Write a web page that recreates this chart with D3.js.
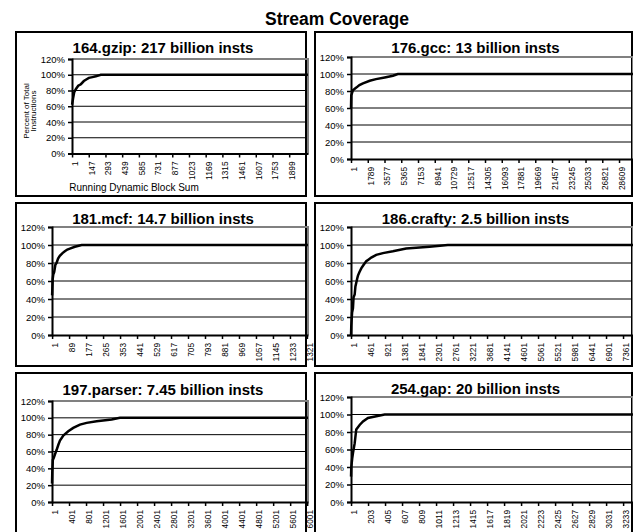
<!DOCTYPE html>
<html>
<head>
<meta charset="utf-8">
<script src="https://cdn.jsdelivr.net/npm/d3@7"></script>
<style>
  body { margin: 0; background: #fff; }
  svg { display: block; }
  text { font-family: Arial, "Liberation Sans", sans-serif; fill: #000; }
</style>
</head>
<body>
<svg id="chart" width="633" height="532"></svg>
<script>
// ---- data ----
const chartTitle = "Stream Coverage";
const panelTitles = [
    "164.gzip: 217 billion insts",
    "176.gcc: 13 billion insts",
    "181.mcf: 14.7 billion insts",
    "186.crafty: 2.5 billion insts",
    "197.parser: 7.45 billion insts",
    "254.gap: 20 billion insts"
];
// number of categories (running dynamic block sum) on each x axis
const categoryCounts = [2063, 30100, 1326, 7630, 6020, 3350];

const gzipTicks = [1, 147, 293, 439, 585, 731, 877, 1023, 1169, 1315, 1461, 1607, 1753, 1899];
const gccTicks = [1, 1789, 3577, 5365, 7153, 8941, 10729, 12517, 14305, 16093, 17881, 19669, 21457, 23245, 25033, 26821, 28609];
const mcfTicks = [1, 89, 177, 265, 353, 441, 529, 617, 705, 793, 881, 969, 1057, 1145, 1233, 1321];
const craftyTicks = [1, 461, 921, 1381, 1841, 2301, 2761, 3221, 3681, 4141, 4601, 5061, 5521, 5981, 6441, 6901, 7361];
const parserTicks = [1, 401, 801, 1201, 1601, 2001, 2401, 2801, 3201, 3601, 4001, 4401, 4801, 5201, 5601, 6001];
const gapTicks = [1, 203, 405, 607, 809, 1011, 1213, 1415, 1617, 1819, 2021, 2223, 2425, 2627, 2829, 3031, 3233];

const yTicks = [0, 20, 40, 60, 80, 100, 120];

// [block index, percent of total instructions]
const gzipCoverage = [[1, 62], [10, 70], [20, 78], [35, 82], [55, 86], [78, 88], [104, 92], [125, 94], [148, 96], [180, 97], [209, 98], [252, 100], [2063, 100]];
const gccCoverage = [[1, 60], [30, 75], [210, 81], [565, 84], [900, 87], [1280, 89], [2000, 92], [2670, 94], [3600, 96], [4480, 98], [5000, 100], [30100, 100]];
const mcfCoverage = [[1, 44], [4, 62], [7, 67], [12, 70], [18, 78], [24, 80], [32, 85], [41, 88], [55, 91], [67, 93], [80, 95], [93, 96], [119, 98], [154, 100], [1326, 100]];
const craftyCoverage = [[1, 0], [8, 10], [30, 25], [54, 30], [70, 42], [100, 45], [120, 54], [143, 58], [170, 63], [189, 66], [230, 70], [278, 74], [343, 78], [413, 82], [480, 84], [548, 86], [683, 89], [864, 91], [1134, 93], [1493, 96], [2125, 98], [2619, 100], [7630, 100]];
const parserCoverage = [[1, 22], [7, 35], [20, 50], [47, 53], [80, 58], [110, 62], [150, 68], [188, 73], [266, 79], [383, 84], [500, 88], [658, 92], [815, 94], [1050, 96], [1403, 98], [1598, 100], [6020, 100]];
const gapCoverage = [[1, 29], [4, 40], [15, 50], [24, 56], [44, 67], [63, 83], [103, 88], [143, 92], [202, 96], [301, 98], [400, 100], [3350, 100]];

const tickSets = [gzipTicks, gccTicks, mcfTicks, craftyTicks, parserTicks, gapTicks];
const coverages = [gzipCoverage, gccCoverage, mcfCoverage, craftyCoverage, parserCoverage, gapCoverage];

// ---- layout: panel frame and plot area, [x0, y0, x1, y1] ----
const layout = [
    { box: [16, 32, 306, 196], plot: [72, 59, 308, 153.5], titleY: 53 },
    { box: [315, 32, 632, 196], plot: [351, 57, 633, 159], titleY: 53 },
    { box: [16, 203, 306, 366], plot: [52, 227, 308, 335], titleY: 224 },
    { box: [315, 203, 632, 366], plot: [351, 227, 633, 335], titleY: 224 },
    { box: [16, 373, 306, 545], plot: [52, 401, 308, 502], titleY: 395 },
    { box: [315, 373, 632, 545], plot: [351, 397, 633, 502], titleY: 394 }
];

const svg = d3.select("#chart");

svg.append("text")
    .attr("x", 337)
    .attr("y", 25)
    .attr("text-anchor", "middle")
    .style("font-size", "17.5px")
    .style("font-weight", "bold")
    .text(chartTitle);

layout.forEach((L, i) => {
    const [bx0, by0, bx1, by1] = L.box;
    const [px0, py0, px1, py1] = L.plot;
    const g = svg.append("g");

    // panel frame
    g.append("rect")
        .attr("x", bx0).attr("y", by0)
        .attr("width", bx1 - bx0).attr("height", by1 - by0)
        .attr("fill", "#fff")
        .attr("stroke", "#000")
        .attr("stroke-width", 2);

    const x = d3.scaleLinear().domain([0.5, categoryCounts[i] + 0.5]).range([px0, px1]);
    const y = d3.scaleLinear().domain([0, 120]).range([py1, py0]);

    // gridlines
    g.append("g")
        .selectAll("line")
        .data(yTicks.filter(v => v > 0 && v < 120))
        .join("line")
        .attr("x1", px0).attr("x2", px1)
        .attr("y1", d => y(d)).attr("y2", d => y(d))
        .attr("stroke", "#000")
        .attr("stroke-width", 1);

    // plot area border (top and right) in gray
    g.append("path")
        .attr("d", `M${px0},${y(120)}H${px1}V${py1}`)
        .attr("fill", "none")
        .attr("stroke", "#808080")
        .attr("stroke-width", 2);

    // y axis
    const yAxis = g.append("g")
        .attr("transform", `translate(${px0},0)`)
        .call(d3.axisLeft(y).tickValues(yTicks).tickSize(4).tickPadding(3).tickFormat(d => d + "%"));
    yAxis.select(".domain").attr("stroke", "#000").attr("stroke-width", 2);
    yAxis.selectAll(".tick line").attr("stroke", "#000").attr("stroke-width", 1.5);
    yAxis.selectAll(".tick text")
        .attr("fill", "#000")
        .style("font-size", "9.5px")
        .style("font-family", "Arial, 'Liberation Sans', sans-serif");

    // x axis
    const xAxis = g.append("g")
        .attr("transform", `translate(0,${py1})`)
        .call(d3.axisBottom(x).tickValues(tickSets[i]).tickSize(4).tickSizeOuter(0).tickFormat(d => String(d)));
    xAxis.select(".domain").attr("stroke", "#000").attr("stroke-width", 2);
    xAxis.selectAll(".tick line").attr("stroke", "#000").attr("stroke-width", 1.5);
    xAxis.selectAll(".tick text")
        .attr("transform", "rotate(-90)")
        .attr("x", -8)
        .attr("y", 2)
        .attr("dy", "0.35em")
        .attr("text-anchor", "end")
        .attr("fill", "#000")
        .attr("textLength", d => String(d).length * 4.6)
        .attr("lengthAdjust", "spacingAndGlyphs")
        .style("font-size", "9.5px")
        .style("font-family", "Arial, 'Liberation Sans', sans-serif");

    // coverage curve
    const line = d3.line()
        .x(d => x(d[0]))
        .y(d => y(d[1]));
    g.append("path")
        .datum(coverages[i])
        .attr("d", line)
        .attr("fill", "none")
        .attr("stroke", "#000")
        .attr("stroke-width", 2.5);

    // panel title
    g.append("text")
        .attr("x", (bx0 + bx1) / 2 + 2)
        .attr("y", L.titleY)
        .attr("text-anchor", "middle")
        .style("font-size", "15px")
        .style("font-weight", "bold")
        .text(panelTitles[i]);

    // axis titles only on the first panel
    if (i === 0) {
        const cy = 111;
        g.append("text")
            .attr("transform", `translate(26,${cy}) rotate(-90)`)
            .attr("text-anchor", "middle")
            .attr("dy", "0.35em")
            .style("font-size", "8px")
            .text("Percent of Total");
        g.append("text")
            .attr("transform", `translate(33.5,${cy}) rotate(-90)`)
            .attr("text-anchor", "middle")
            .attr("dy", "0.35em")
            .style("font-size", "8px")
            .text("Instructions");
        g.append("text")
            .attr("x", 134)
            .attr("y", 191)
            .attr("text-anchor", "middle")
            .style("font-size", "10px")
            .text("Running Dynamic Block Sum");
    }
});
</script>
</body>
</html>
